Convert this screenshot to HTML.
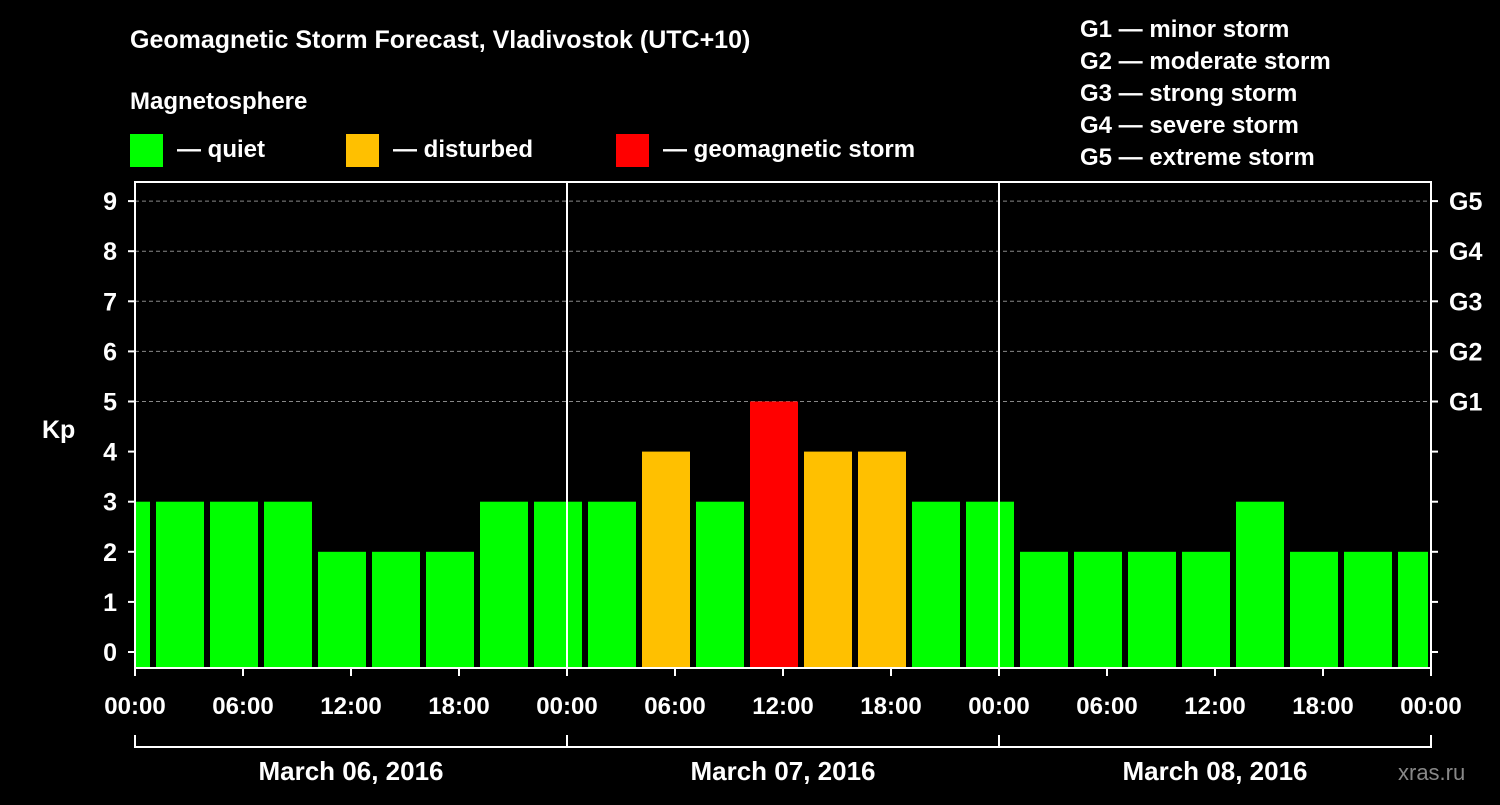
<!DOCTYPE html>
<html><head><meta charset="utf-8"><style>
body{margin:0;background:#000;width:1500px;height:800px;overflow:hidden}
svg text{font-family:"Liberation Sans",Arial,sans-serif;font-weight:bold;fill:#fff}
</style></head><body>
<svg id="c" width="1500" height="800">
<text x="130" y="48" font-size="25">Geomagnetic Storm Forecast, Vladivostok (UTC+10)</text>
<text x="130" y="109" font-size="24">Magnetosphere</text>
<g><rect x="130" y="134" width="33" height="33" fill="#00ff00"/><text x="177" y="157" font-size="24">— quiet</text></g>
<g><rect x="346" y="134" width="33" height="33" fill="#ffc000"/><text x="393" y="157" font-size="24">— disturbed</text></g>
<g><rect x="616" y="134" width="33" height="33" fill="#ff0000"/><text x="663" y="157" font-size="24">— geomagnetic storm</text></g>
<g font-size="24">
<text x="1080" y="37">G1 — minor storm</text><text x="1080" y="69">G2 — moderate storm</text><text x="1080" y="101">G3 — strong storm</text><text x="1080" y="133">G4 — severe storm</text><text x="1080" y="165">G5 — extreme storm</text></g>
<text x="42" y="438" font-size="25">Kp</text>
<text x="1398" y="780" font-size="22" style="fill:#888;font-weight:normal">xras.ru</text>
<g id="plot"></g>
</svg>
<script>
const kpValues=[3,3,3,3,2,2,2,3,3,3,4,3,5,4,4,3,3,2,2,2,2,3,2,2,2];
const barStartHours=[-2,1,4,7,10,13,16,19,22,25,28,31,34,37,40,43,46,49,52,55,58,61,64,67,70];
const xTickLabels=["00:00","06:00","12:00","18:00"];
const dateLabels=["March 06, 2016","March 07, 2016","March 08, 2016"];
const gLabels=["G1","G2","G3","G4","G5"];
const NS="http://www.w3.org/2000/svg";
const L=135,R=1431,T=182,B=668;
const xs=h=>L+h*18;
const ys=v=>652-v*50.1;
const g=document.getElementById('plot');
function mk(t,a){const e=document.createElementNS(NS,t);for(const k in a)e.setAttribute(k,a[k]);g.appendChild(e);return e;}
// grid
for(let v=5;v<=9;v++){const e=mk('line',{x1:L,x2:R,y1:ys(v),y2:ys(v),stroke:'#888','stroke-dasharray':'4,3'});

}
// bars
kpValues.forEach((v,i)=>{let x0=Math.max(L,xs(barStartHours[i])+3),x1=Math.min(R-3,xs(barStartHours[i])+51);
const c=v>=5?'#ff0000':v>=4?'#ffc000':'#00ff00';
const e=mk('rect',{x:x0,y:ys(v),width:x1-x0,height:B-ys(v),fill:c});

});
// day lines
for(let d=1;d<3;d++){const e=mk('line',{x1:xs(d*24),x2:xs(d*24),y1:T,y2:B,stroke:'#fff','stroke-width':2});

}
const fr=mk('rect',{x:L,y:T,width:R-L,height:B-T,fill:'none',stroke:'#fff','stroke-width':2});


// y ticks
for(let v=0;v<=9;v++){mk('line',{x1:L-7,x2:L,y1:ys(v),y2:ys(v),stroke:'#fff','stroke-width':2});
mk('line',{x1:R,x2:R+7,y1:ys(v),y2:ys(v),stroke:'#fff','stroke-width':2});
const t=mk('text',{x:117,y:ys(v)+9,'font-size':25,'text-anchor':'end'});t.textContent=v;

}
gLabels.forEach((s,i)=>{const t=mk('text',{x:1449,y:ys(i+5)+9,'font-size':25});t.textContent=s;

});
// x ticks
for(let h=0;h<=72;h+=6){mk('line',{x1:xs(h),x2:xs(h),y1:B,y2:B+8,stroke:'#fff','stroke-width':2});
const t=mk('text',{x:xs(h),y:714,'font-size':24,'text-anchor':'middle'});t.textContent=xTickLabels[(h/6)%4];

}
mk('line',{x1:L,x2:R,y1:747,y2:747,stroke:'#fff','stroke-width':2});
for(let d=0;d<=3;d++)mk('line',{x1:xs(d*24),x2:xs(d*24),y1:735,y2:748,stroke:'#fff','stroke-width':2});
dateLabels.forEach((s,i)=>{const t=mk('text',{x:xs(i*24+12),y:780,'font-size':26,'text-anchor':'middle'});t.textContent=s;

});
</script>
</body></html>
